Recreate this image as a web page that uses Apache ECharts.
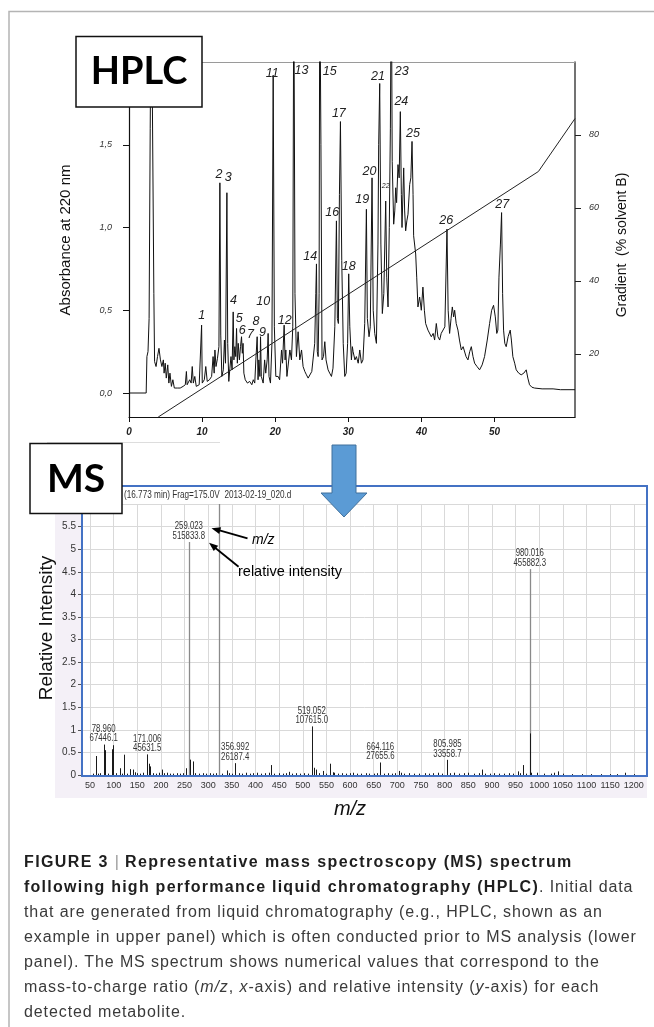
<!DOCTYPE html>
<html><head><meta charset="utf-8">
<script src="https://cdn.jsdelivr.net/npm/echarts@6/dist/echarts.min.js"></script>
<style>
html,body{margin:0;padding:0;background:#fff}
#c{width:654px;height:1027px;position:absolute;left:0;top:0}
#cap{position:absolute;left:24px;top:849px;width:630px;font-family:"Liberation Sans",Arial,sans-serif;font-size:16px;line-height:25px;color:#3a3a3a;white-space:nowrap;letter-spacing:0.9px}
#cap b{color:#1e1e1e;font-weight:bold;letter-spacing:1.25px}
#cap b.h{letter-spacing:1.38px}
#cap .p{color:#999}
</style>
</head><body><div id="c"></div>
<div id="cap"><b class="h">FIGURE 3 </b><span class="p">|</span> <b class="h">Representative mass spectroscopy (MS) spectrum</b><br><b>following high performance liquid chromatography (HPLC)</b>. Initial data<br>that are generated from liquid chromatography (e.g., HPLC, shown as an<br>example in upper panel) which is often conducted prior to MS analysis (lower<br>panel). The MS spectrum shows numerical values that correspond to the<br>mass-to-charge ratio (<i>m/z</i>, <i>x</i>-axis) and relative intensity (<i>y</i>-axis) for each<br>detected metabolite.</div>
<script>
// ---------------- HPLC chromatogram ----------------
const hplcTime = [0,2.35,2.45,2.6,2.75,2.9,3.05,3.25,3.4,3.5,3.7,3.9,4.1,4.3,4.5,4.7,4.8,4.95,5.1,5.3,5.45,5.6,5.8,6.0,6.2,6.6,7.0,7.4,7.7,7.85,7.95,8.3,8.5,8.65,8.8,9.0,9.2,9.6,9.85,9.93,10.02,10.3,10.5,10.7,11.0,11.3,11.5,11.65,11.75,11.9,12.1,12.3,12.43,12.55,12.7,12.9,13.05,13.2,13.39,13.5,13.65,13.8,13.95,14.1,14.25,14.35,14.48,14.6,14.71,14.82,14.94,15.1,15.25,15.39,15.5,15.6,15.71,15.9,16.2,16.5,16.8,17.0,17.2,17.35,17.53,17.65,17.76,17.9,17.99,18.1,18.35,18.55,18.7,18.9,19.03,19.15,19.35,19.55,19.72,19.88,20.08,20.4,20.6,20.86,21.0,21.22,21.35,21.45,21.6,21.76,22.0,22.22,22.4,22.54,22.7,22.9,23.13,23.36,23.6,23.81,24.05,24.27,24.5,24.73,25.0,25.18,25.4,25.55,25.64,25.75,25.87,26.0,26.09,26.25,26.4,26.6,26.78,26.95,27.23,27.45,27.69,27.9,28.15,28.37,28.5,28.64,28.78,28.92,29.1,29.3,29.51,29.7,29.9,30.05,30.2,30.42,30.55,30.65,30.9,31.1,31.35,31.56,31.79,32.0,32.24,32.47,32.6,32.83,33.0,33.24,33.4,33.61,33.84,34.05,34.15,34.29,34.45,34.65,34.85,35.11,35.25,35.43,35.6,35.75,35.88,36.0,36.2,36.35,36.48,36.6,36.79,36.95,37.11,37.25,37.34,37.57,37.7,37.84,38.0,38.16,38.39,38.55,38.71,38.85,38.93,39.21,39.35,39.52,39.75,39.98,40.2,40.4,40.57,40.89,41.1,41.35,41.6,41.8,42.03,42.25,42.49,42.7,42.94,43.2,43.49,43.65,43.85,44.05,44.22,44.4,44.54,44.75,44.99,45.2,45.45,45.7,45.9,46.1,46.36,46.6,46.82,47.05,47.27,47.6,47.95,48.3,48.63,49.0,49.32,49.6,49.86,50.1,50.3,50.45,50.6,50.8,50.96,51.1,51.23,51.4,51.59,51.85,52.14,52.3,52.5,52.75,52.96,53.3,53.64,54.0,54.33,54.55,54.78,55.1,55.46,56.5,58,59,61];
const hplcAbs = [0,0,0.22,0.25,0.45,1.6,2.6,2.6,0.6,0.19,0.16,0.22,0.27,0.2,0.16,0.2,0.12,0.18,0.09,0.17,0.06,0.12,0.04,0.08,0.03,0.03,0.03,0.04,0.05,0.13,0.05,0.08,0.06,0.16,0.06,0.1,0.04,0.05,0.06,0.41,0.06,0.08,0.16,0.07,0.08,0.1,0.22,0.12,0.26,0.16,0.21,0.28,1.27,0.35,0.1,0.14,0.32,0.18,1.21,0.3,0.07,0.15,0.22,0.14,0.49,0.2,0.28,0.22,0.39,0.18,0.3,0.2,0.28,0.34,0.24,0.3,0.12,0.08,0.06,0.07,0.05,0.08,0.06,0.2,0.34,0.08,0.2,0.1,0.34,0.1,0.06,0.2,0.12,0.2,0.36,0.1,0.06,0.3,1.92,0.4,0.1,0.1,0.08,0.26,0.18,0.41,0.2,0.26,0.1,0.1,0.26,0.2,0.4,2.6,0.6,0.22,0.37,0.2,0.26,0.16,0.13,0.11,0.09,0.08,0.13,0.13,0.3,0.6,0.78,0.25,0.22,0.6,2.6,1.5,0.2,0.22,0.31,0.2,0.14,0.12,0.1,0.15,0.4,1.04,0.45,0.42,1.2,1.64,0.8,0.3,0.1,0.12,0.3,0.72,0.4,0.2,0.28,0.25,0.2,0.22,0.18,0.26,0.18,0.2,0.42,1.11,0.45,0.34,0.4,1.3,0.5,0.36,0.3,0.9,1.5,1.87,0.9,0.48,0.6,1.16,0.7,0.52,1.0,1.6,2.6,1.4,1.02,1.1,1.24,1.15,1.38,1.3,1.7,1.2,1.0,1.36,1.1,0.98,1.04,1.08,1.26,1.3,1.52,1.2,0.95,0.84,0.7,0.52,0.58,0.5,0.64,0.5,0.42,0.38,0.38,0.34,0.36,0.32,0.42,0.34,0.32,0.36,0.36,0.4,0.99,0.5,0.36,0.45,0.52,0.46,0.5,0.42,0.38,0.32,0.26,0.28,0.27,0.22,0.2,0.25,0.28,0.22,0.18,0.16,0.14,0.17,0.22,0.32,0.42,0.5,0.53,0.46,0.36,0.38,0.7,0.9,1.09,0.6,0.38,0.3,0.28,0.34,0.38,0.32,0.22,0.18,0.14,0.12,0.11,0.12,0.14,0.09,0.05,0.035,0.03,0.025,0.025,0.02,0.02];
const gradTime = [4, 56, 61];
const gradPct = [2.7, 70, 84.5];
const peakNums = ['1','2','3','4','5','6','7','8','9','10','11','12','13','14','15','16','17','18','19','20','21','22','23','24','25','26','27'];
const peakLblTime = [9.93,12.3,13.57,14.3,15.07,15.48,16.6,17.35,18.26,18.35,19.58,21.3,23.6,24.8,27.46,27.8,28.7,30.05,31.9,32.9,34.06,35.1,37.3,37.25,38.85,43.4,51.05];
const peakLblAbs = [0.47,1.32,1.30,0.556,0.45,0.375,0.355,0.434,0.366,0.55,1.93,0.44,1.95,0.825,1.94,1.09,1.69,0.765,1.17,1.34,1.91,1.25,1.94,1.76,1.57,1.04,1.14];
const hplcXTicks = [0,10,20,30,40,50];
const hplcYTicks = [0,0.5,1,1.5];
const hplcY2Ticks = [20,40,60,80];

// ---------------- MS spectrum ----------------
const msMz = [56,62.1,66,72,78.96,80.9,88,95.5,97.9,104,113.5,118,122.5,128,135.4,141.4,145,149,155,163,171.006,174,177,183,190,196,202,207,213,219,226,233,240,246,252.5,259.023,262,268,272,280,288,296,304,310,317,322.8,330,338.7,345,351,356.992,365,372,380,388,395,404,412,420,428,432.4,440,450,458,465,470,478,486,495,503,510,519.052,523,527.6,534,542,550,558.6,563,567,575,583,592,600,606,615,624,633,641,650,657,664.116,672,680,688,695,704.4,707,715,725,735,745,758,768,775,785,795,805.985,812,820,830,842,850,862,872,878.8,886,895,905,915,925,937,945,955,959,965.5,972,980.016,981,983,995,1010,1025,1032,1039,1050,1070,1090,1110,1130,1150,1165,1182,1200];
const msInt = [0.03,0.42,0.03,0.04,0.674,0.55,0.03,0.57,0.66,0.04,0.15,0.03,0.45,0.03,0.13,0.12,0.06,0.04,0.03,0.05,0.456,0.25,0.19,0.04,0.03,0.05,0.12,0.04,0.05,0.03,0.03,0.04,0.03,0.04,0.15,5.158,0.34,0.30,0.04,0.03,0.04,0.03,0.04,0.03,0.04,6.0,0.03,0.1,0.04,0.03,0.262,0.04,0.03,0.05,0.03,0.04,0.05,0.03,0.04,0.05,0.22,0.03,0.04,0.03,0.04,0.07,0.03,0.04,0.03,0.04,0.03,1.076,0.16,0.12,0.04,0.09,0.03,0.25,0.06,0.05,0.03,0.04,0.03,0.04,0.05,0.03,0.03,0.04,0.03,0.03,0.04,0.277,0.03,0.04,0.03,0.04,0.09,0.05,0.03,0.04,0.03,0.03,0.04,0.03,0.04,0.05,0.03,0.336,0.04,0.05,0.03,0.04,0.05,0.03,0.04,0.12,0.03,0.03,0.04,0.03,0.03,0.04,0.03,0.08,0.04,0.22,0.03,4.559,0.92,0.05,0.05,0.03,0.03,0.05,0.08,0.03,0.02,0.02,0.02,0.02,0.02,0.02,0.05,0.02];
const msLblMz = ['78.960','171.006','259.023','356.992','519.052','664.116','805.985','980.016'];
const msLblAbund = ['67446.1','45631.5','515833.8','26187.4','107615.0','27655.6','33558.7','455882.3'];
const msXTicks = [50,100,150,200,250,300,350,400,450,500,550,600,650,700,750,800,850,900,950,1000,1050,1100,1150,1200];

const zip = (a, b) => a.map((v, i) => [v, b[i]]);
const NARROW = '"Liberation Sans Narrow","Liberation Sans",Arial,sans-serif';
const SANS = '"Liberation Sans",Arial,sans-serif';

const chart = echarts.init(document.getElementById('c'), null, {renderer: 'canvas'});

function arrowHead(x1, y1, x2, y2, len, w) {
  const a = Math.atan2(y2 - y1, x2 - x1);
  const bx = x2 - len * Math.cos(a), by = y2 - len * Math.sin(a);
  const nx = -Math.sin(a) * w, ny = Math.cos(a) * w;
  return [[x2, y2], [bx + nx, by + ny], [bx - nx, by - ny]];
}

const graphics = [
  {type: 'polyline', shape: {points: [[9, 1027], [9, 11.5], [654, 11.5]]}, style: {stroke: '#b4b4b4', lineWidth: 1.5, fill: null}, z: 1},
  {type: 'rect', shape: {x: 55, y: 500, width: 592, height: 298}, style: {fill: '#f4f0f7'}, z: -100},
  {type: 'rect', shape: {x: 82, y: 486, width: 565, height: 290}, style: {fill: '#fff'}, z: -99},
  {type: 'rect', shape: {x: 82, y: 486, width: 565, height: 290}, style: {fill: null, stroke: '#4472c4', lineWidth: 2}, z: 50},
  {type: 'line', shape: {x1: 47, y1: 442.5, x2: 220, y2: 442.5}, style: {stroke: '#dddddd', lineWidth: 1}, z: 1},
  {type: 'text', x: 124, y: 495, scaleX: 0.78, style: {text: '(16.773 min) Frag=175.0V  2013-02-19_020.d', font: '10.5px ' + SANS, fill: '#333', verticalAlign: 'middle'}, z: 60},
  {type: 'line', shape: {x1: 247.5, y1: 538.3, x2: 216, y2: 529.4}, style: {stroke: '#000', lineWidth: 1.8}, z: 60},
  {type: 'polygon', shape: {points: arrowHead(247.5, 538.3, 211.5, 528.2, 9, 3.5)}, style: {fill: '#000'}, z: 60},
  {type: 'line', shape: {x1: 238.6, y1: 566.7, x2: 212, y2: 545.2}, style: {stroke: '#000', lineWidth: 1.8}, z: 60},
  {type: 'polygon', shape: {points: arrowHead(238.6, 566.7, 209, 542.7, 9, 3.5)}, style: {fill: '#000'}, z: 60},
  {type: 'text', x: 252, y: 540, style: {text: 'm/z', font: 'italic 14px ' + SANS, fill: '#000', verticalAlign: 'middle'}, z: 60},
  {type: 'text', x: 238, y: 572, style: {text: 'relative intensity', font: '14.5px ' + SANS, fill: '#000', verticalAlign: 'middle'}, z: 60},
  {type: 'text', x: 66, y: 240, rotation: Math.PI / 2, style: {text: 'Absorbance at 220 nm', font: '15px ' + SANS, fill: '#111', align: 'center', verticalAlign: 'middle'}, z: 60},
  {type: 'text', x: 622, y: 245, rotation: Math.PI / 2, style: {text: 'Gradient  (% solvent B)', font: '14px ' + SANS, fill: '#111', align: 'center', verticalAlign: 'middle'}, z: 60},
  {type: 'text', x: 47, y: 628, rotation: Math.PI / 2, style: {text: 'Relative Intensity', font: '19px ' + SANS, fill: '#111', align: 'center', verticalAlign: 'middle'}, z: 60},
  {type: 'text', x: 350, y: 809, style: {text: 'm/z', font: 'italic 20px ' + SANS, fill: '#111', align: 'center', verticalAlign: 'middle'}, z: 60},
  {type: 'rect', shape: {x: 76, y: 36.5, width: 126, height: 70.5}, style: {fill: '#fff', stroke: '#111', lineWidth: 1.5}, z: 100},
  {type: 'text', x: 139, y: 72, style: {text: 'HPLC', font: 'bold 38px Lato, "Open Sans", sans-serif', fill: '#000', align: 'center', verticalAlign: 'middle'}, z: 101},
  {type: 'rect', shape: {x: 30, y: 443.5, width: 92, height: 70}, style: {fill: '#fff', stroke: '#111', lineWidth: 1.5}, z: 100},
  {type: 'text', x: 76, y: 479, style: {text: 'MS', font: 'bold 39px Lato, "Open Sans", sans-serif', fill: '#000', align: 'center', verticalAlign: 'middle'}, z: 101},
  {type: 'polygon', shape: {points: [[332, 445], [356, 445], [356, 493], [367, 493], [344, 517], [321, 493], [332, 493]]}, style: {fill: '#5b9bd5', stroke: '#41719c', lineWidth: 1}, z: 100}
];

const option = {
  animation: false,
  backgroundColor: '#fff',
  grid: [
    {left: 129, right: 79, top: 62, bottom: 610},
    {left: 82, right: 7, top: 504, bottom: 252}
  ],
  xAxis: [
    {gridIndex: 0, type: 'value', min: 0, max: 61,
      axisLine: {onZero: false, lineStyle: {color: '#111', width: 1.2}},
      axisTick: {customValues: hplcXTicks, length: 5, lineStyle: {color: '#111'}},
      axisLabel: {customValues: hplcXTicks, margin: 10, fontSize: 10, fontStyle: 'italic', fontWeight: 'bold', color: '#222', fontFamily: SANS},
      splitLine: {show: false}},
    {gridIndex: 0, type: 'value', position: 'top', min: 0, max: 61,
      axisLine: {onZero: false, lineStyle: {color: '#9a9a9a', width: 1}},
      axisTick: {show: false}, axisLabel: {show: false}, splitLine: {show: false}},
    {gridIndex: 1, type: 'value', min: 33.07, max: 1228,
      axisLine: {show: false},
      axisTick: {show: false, customValues: msXTicks},
      axisLabel: {customValues: msXTicks, margin: 6, fontSize: 9, color: '#333', fontFamily: NARROW, formatter: v => String(v)},
      splitLine: {show: true, lineStyle: {color: '#d9d9d9', width: 1}}}
  ],
  yAxis: [
    {gridIndex: 0, type: 'value', min: -0.145, max: 2.0,
      axisLine: {show: true, onZero: false, lineStyle: {color: '#111', width: 1.2}},
      axisTick: {show: true, customValues: hplcYTicks, length: 6, lineStyle: {color: '#111'}},
      axisLabel: {customValues: hplcYTicks, margin: 17, fontSize: 9, fontStyle: 'italic', color: '#333', fontFamily: SANS,
        formatter: v => v.toFixed(1).replace('.', ',')},
      splitLine: {show: false}},
    {gridIndex: 0, type: 'value', position: 'right', min: 2.7, max: 100,
      axisLine: {show: true, onZero: false, lineStyle: {color: '#444', width: 1.5}},
      axisTick: {show: true, customValues: hplcY2Ticks, length: 6, lineStyle: {color: '#222'}},
      axisLabel: {customValues: hplcY2Ticks, margin: 14, fontSize: 9, fontStyle: 'italic', color: '#333', fontFamily: SANS},
      splitLine: {show: false}},
    {gridIndex: 1, type: 'value', min: 0, max: 6, interval: 0.5,
      axisLine: {show: false},
      axisTick: {show: true, length: 4, lineStyle: {color: '#555'}},
      axisLabel: {margin: 6, fontSize: 10, color: '#333', fontFamily: NARROW, showMaxLabel: false},
      splitLine: {show: true, lineStyle: {color: '#d9d9d9', width: 1}}}
  ],
  series: [
    {type: 'line', xAxisIndex: 0, yAxisIndex: 0, data: zip(hplcTime, hplcAbs), showSymbol: false, clip: true,
      lineStyle: {color: '#111', width: 1}, z: 5},
    {type: 'line', xAxisIndex: 0, yAxisIndex: 1, data: zip(gradTime, gradPct), showSymbol: false, clip: true,
      lineStyle: {color: '#222', width: 1}, z: 5},
    {type: 'custom', xAxisIndex: 0, yAxisIndex: 0, data: peakLblTime.map((t, i) => [t, peakLblAbs[i], i]), z: 6,
      renderItem: (params, api) => {
        const p = api.coord([api.value(0), api.value(1)]);
        const txt = peakNums[api.value(2)];
        return {type: 'text', x: p[0], y: p[1], style: {text: txt, fill: '#222',
          font: (txt === '22' ? 'italic 7px ' : 'italic 12.5px ') + SANS, align: 'center', verticalAlign: 'middle'}};
      }},
    {type: 'custom', xAxisIndex: 2, yAxisIndex: 2, data: zip(msMz, msInt), z: 6,
      renderItem: (params, api) => {
        const v = api.value(1);
        const p0 = api.coord([api.value(0), 0]);
        const p1 = api.coord([api.value(0), v]);
        const x = Math.round(p0[0]) + 0.5;
        return {type: 'line', shape: {x1: x, y1: p0[1], x2: x, y2: p1[1]},
          style: {stroke: v > 2 ? '#8a8a8a' : '#1a1a1a', lineWidth: v > 2 ? 1.3 : 1}};
      }},
    {type: 'custom', xAxisIndex: 2, yAxisIndex: 2, z: 7,
      data: msLblMz.map((m, i) => [parseFloat(m), parseFloat(msLblAbund[i]) / 1e5]),
      renderItem: (params, api) => {
        const i = params.dataIndex;
        const p = api.coord([api.value(0), api.value(1)]);
        const st = {fill: '#333', font: '10px ' + SANS, align: 'center', verticalAlign: 'middle'};
        return {type: 'group', children: [
          {type: 'text', x: p[0], y: p[1] - 15.5, scaleX: 0.78, style: Object.assign({text: msLblMz[i]}, st)},
          {type: 'text', x: p[0], y: p[1] - 6, scaleX: 0.78, style: Object.assign({text: msLblAbund[i]}, st)}
        ]};
      }}
  ],
  graphic: {elements: graphics}
};
chart.setOption(option);
</script>
</body></html>
